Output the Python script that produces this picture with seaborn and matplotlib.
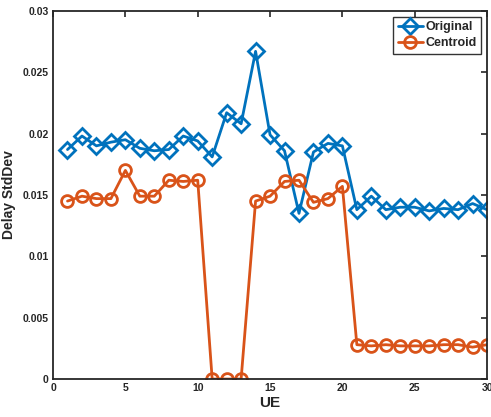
import numpy as np
import pandas as pd
import matplotlib
matplotlib.use("Agg")
import matplotlib.pyplot as plt
import seaborn as sns

ue = list(range(1, 31))
original = [0.0187, 0.0198, 0.0190, 0.0193, 0.0195, 0.0188, 0.0186, 0.0187, 0.0198, 0.0194,
            0.0181, 0.0217, 0.0208, 0.0267, 0.0199, 0.0186, 0.0135, 0.0185, 0.0192, 0.0190,
            0.0138, 0.0149, 0.0138, 0.0140, 0.0140, 0.0137, 0.0139, 0.0138, 0.0143, 0.0138]
centroid = [0.0145, 0.0149, 0.0147, 0.0147, 0.0170, 0.0149, 0.0149, 0.0162, 0.0161, 0.0162,
            0.0, 0.0, 0.0, 0.0145, 0.0149, 0.0161, 0.0162, 0.0144, 0.0147, 0.0157,
            0.0028, 0.0027, 0.0028, 0.0027, 0.0027, 0.0027, 0.0028, 0.0028, 0.0026, 0.0028]
xticks = [0, 5, 10, 15, 20, 25, 30]
yticks = [0, 0.005, 0.01, 0.015, 0.02, 0.025, 0.03]
ytick_labels = ["0", "0.005", "0.01", "0.015", "0.02", "0.025", "0.03"]

sns.set_style("white")
plt.rcParams['font.family'] = ['Liberation Sans', 'DejaVu Sans']

df = pd.DataFrame({"UE": ue + ue,
                   "val": original + centroid,
                   "series": ["Original"] * 30 + ["Centroid"] * 30})

fig = plt.figure(figsize=(4.91, 4.17), dpi=100)
ax = fig.add_axes([0.108, 0.091, 0.884, 0.883])

blue = "#0072BD"
orange = "#D95319"
sns.lineplot(data=df[df.series == "Original"], x="UE", y="val", ax=ax, color=blue,
             marker="D", markersize=8, markerfacecolor="none", markeredgecolor=blue,
             markeredgewidth=2, linewidth=2, label="Original")
sns.lineplot(data=df[df.series == "Centroid"], x="UE", y="val", ax=ax, color=orange,
             marker="o", markersize=8.5, markerfacecolor="none", markeredgecolor=orange,
             markeredgewidth=2, linewidth=2, label="Centroid")

ax.set_xlim(0, 30)
ax.set_ylim(0, 0.03)
ax.set_xticks(xticks)
ax.set_yticks(yticks)
ax.set_yticklabels(ytick_labels)
ax.tick_params(direction="in", length=4, width=1.2, top=True, right=True,
               labelsize=7.5, colors="#262626", pad=3)
for lab in ax.get_xticklabels() + ax.get_yticklabels():
    lab.set_fontweight("bold")
for s in ax.spines.values():
    s.set_linewidth(1.3)
    s.set_color("#262626")
ax.set_xlabel("UE", fontsize=11, fontweight="bold", color="#262626", labelpad=2)
ax.set_ylabel("Delay StdDev", fontsize=10, fontweight="bold", color="#262626", labelpad=5)

leg = ax.legend(loc="upper right", fontsize=9, frameon=True, fancybox=False,
                borderpad=0.35, handlelength=2.0, handletextpad=0.2, labelspacing=0.3,
                borderaxespad=0.5)
leg.get_frame().set_edgecolor("black")
leg.get_frame().set_linewidth(1.0)
for t in leg.get_texts():
    t.set_fontweight("bold")

fig.savefig("out.png", dpi=100)
